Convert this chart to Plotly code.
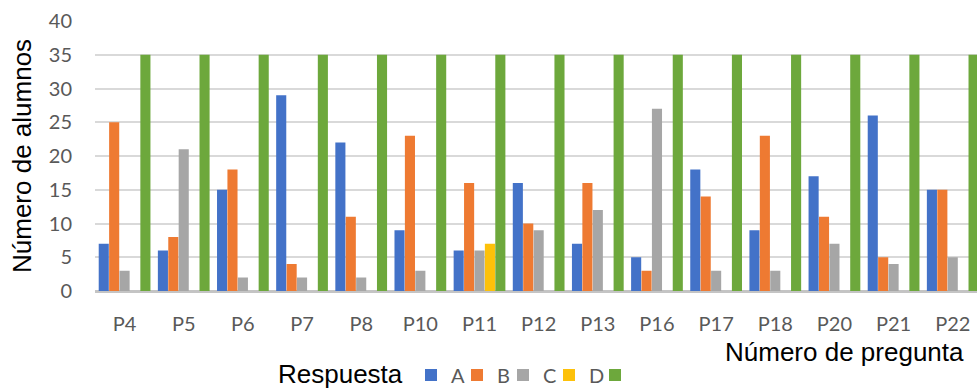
import plotly.graph_objects as go

preguntas = ["P4", "P5", "P6", "P7", "P8", "P10", "P11", "P12", "P13",
             "P16", "P17", "P18", "P20", "P21", "P22"]
resp_a = [7, 6, 15, 29, 22, 9, 6, 16, 7, 5, 18, 9, 17, 26, 15]
resp_b = [25, 8, 18, 4, 11, 23, 16, 10, 16, 3, 14, 23, 11, 5, 15]
resp_c = [3, 21, 2, 2, 2, 3, 6, 9, 12, 27, 3, 3, 7, 4, 5]
resp_d = [0, 0, 0, 0, 0, 0, 7, 0, 0, 0, 0, 0, 0, 0, 0]
total = [35] * 15

series = [
    ("A", resp_a, "#4372C8"),
    ("B", resp_b, "#EE7A32"),
    ("C", resp_c, "#A6A6A6"),
    ("D", resp_d, "#FDC10A"),
    (" ", total, "#6DA83C"),
]

W, H = 977, 390
L, R, T, B = 95, 0, 21, 99
pw, ph = W - L - R, H - T - B

fig = go.Figure()
for name, vals, color in series:
    fig.add_trace(go.Bar(
        x=preguntas, y=vals, name=name, textposition="none",
        marker=dict(color=color, line=dict(width=0)),
    ))

tick_font = dict(family="Lato", size=20, color="#595959")
title_font = dict(family="Liberation Sans, Arial", size=26, color="#000000")

fig.update_layout(
    width=W, height=H,
    margin=dict(l=L, r=R, t=T, b=B, pad=0),
    paper_bgcolor="white", plot_bgcolor="white",
    barmode="group", bargap=0.12, bargroupgap=0.03,
    showlegend=True,
    legend=dict(
        orientation="h",
        xref="container", x=411 / W, xanchor="left",
        yref="container", y=1 - 375 / H, yanchor="middle",
        font=tick_font, itemwidth=30, traceorder="normal",
        entrywidth=1, entrywidthmode="pixels",
        bgcolor="rgba(0,0,0,0)",
    ),
    xaxis=dict(
        type="category", range=[-0.5, 14.41], automargin=False,
        showgrid=False, showline=False, zeroline=False,
        tickfont=tick_font, ticks="", ticklabelstandoff=19,
    ),
    yaxis=dict(
        range=[0, 40], dtick=5, tick0=0, automargin=False,
        showgrid=True, gridcolor="#D9D9D9", gridwidth=2,
        zeroline=True, zerolinecolor="#C4C4C4", zerolinewidth=3,
        showline=False, tickfont=tick_font, ticks="",
        ticklabelstandoff=22,
    ),
    annotations=[
        dict(text="Número de alumnos", textangle=-90, showarrow=False,
             xref="paper", yref="paper", x=(22 - L) / pw, y=0.5,
             xanchor="center", yanchor="middle", font=title_font),
        dict(text="Número de pregunta", showarrow=False,
             xref="paper", yref="paper", x=(966 - L) / pw,
             y=-(352 - (T + ph)) / ph,
             xanchor="right", yanchor="middle", font=title_font),
        dict(text="Respuesta", showarrow=False,
             xref="paper", yref="paper", x=(405 - L) / pw,
             y=-(374 - (T + ph)) / ph,
             xanchor="right", yanchor="middle", font=title_font),
    ],
)

fig.write_html("out.html")
